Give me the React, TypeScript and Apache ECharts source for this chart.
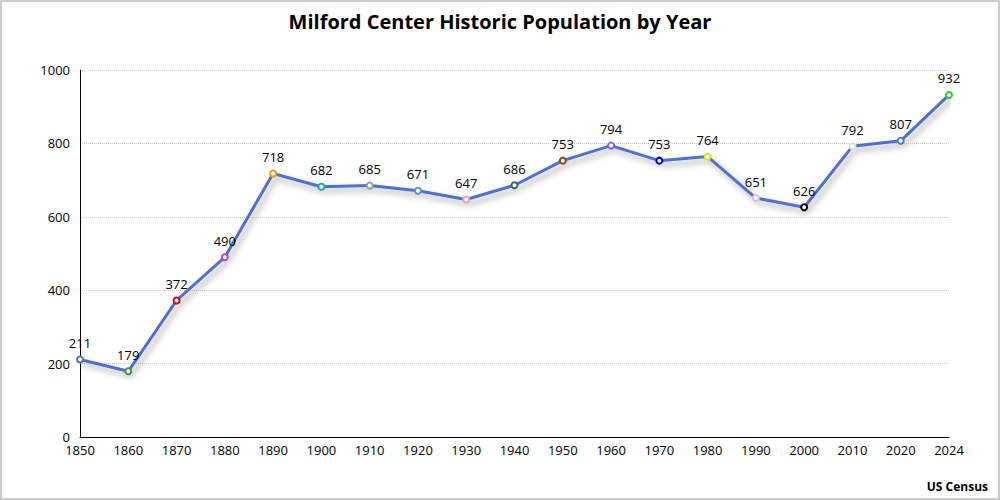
import React, { useEffect, useRef } from "react";
import * as echarts from "echarts";

const years = ["1850","1860","1870","1880","1890","1900","1910","1920","1930","1940","1950","1960","1970","1980","1990","2000","2010","2020","2024"];
const population = [211,179,372,490,718,682,685,671,647,686,753,794,753,764,651,626,792,807,932];
const markerColors = ["#5470c6","#3ba02a","#d0021b","#b847c2","#f39c12","#26a69a","#9a9a9a","#5f9ea0","#f0a0b4","#2e6b4e","#8b4513","#7b68ee","#0000cd","#e0e020","#c8c8e0","#000000","#dddddd","#4682b4","#2ecc40"];
const yTicks = [0, 200, 400, 600, 800, 1000];

export default function App() {
  const ref = useRef<HTMLDivElement>(null);
  useEffect(() => {
    document.body.style.margin = "0";
    const chart = echarts.init(ref.current!, undefined, { renderer: "svg" });
    const font = "'Open Sans', 'Noto Sans', sans-serif";
    chart.setOption({
      animation: false,
      backgroundColor: "#fff",
      title: {
        text: "Milford Center Historic Population by Year",
        left: "center",
        top: 4,
        textStyle: { fontSize: 20, fontWeight: "bold", color: "#000", fontFamily: font },
      },
      graphic: [
        {
          type: "text",
          right: 10,
          bottom: 6,
          style: { text: "US Census", font: "bold 12px " + font, fill: "#000" },
        },
      ],
      grid: { left: 78, right: 49, top: 68, bottom: 61 },
      xAxis: {
        type: "category",
        data: years,
        boundaryGap: false,
        axisLine: { lineStyle: { color: "#000", width: 1 } },
        axisTick: { show: false },
        axisLabel: { color: "#000", fontSize: 13, fontFamily: font, margin: 6 },
      },
      yAxis: {
        type: "value",
        min: yTicks[0],
        max: yTicks[yTicks.length - 1],
        interval: 200,
        axisLine: { show: true, lineStyle: { color: "#000", width: 1 } },
        axisTick: { show: false },
        axisLabel: {
          color: "#000",
          fontSize: 13,
          fontFamily: font,
          margin: 10,
          formatter: (v: number) => String(v),
        },
        splitLine: { lineStyle: { color: "#ccc", type: "dotted" } },
      },
      series: [
        {
          type: "line",
          data: population.map((v, i) => ({
            value: v,
            itemStyle: { color: "#fff", borderColor: markerColors[i], borderWidth: 2 },
          })),
          symbol: "circle",
          symbolSize: 6,
          lineStyle: {
            color: "#4f6fcf",
            width: 3,
            shadowColor: "rgba(0,0,0,0.35)",
            shadowBlur: 6,
            shadowOffsetX: 3,
            shadowOffsetY: 4,
          },
          label: {
            show: true,
            position: "top",
            distance: 6,
            color: "#000",
            fontSize: 13,
            fontFamily: font,
          },
        },
      ],
    });
    return () => chart.dispose();
  }, []);
  return (
    <div
      ref={ref}
      style={{
        position: "absolute",
        left: 0,
        top: 0,
        width: 1000,
        height: 500,
        border: "2px solid #cccccc",
        boxSizing: "border-box",
      }}
    />
  );
}
